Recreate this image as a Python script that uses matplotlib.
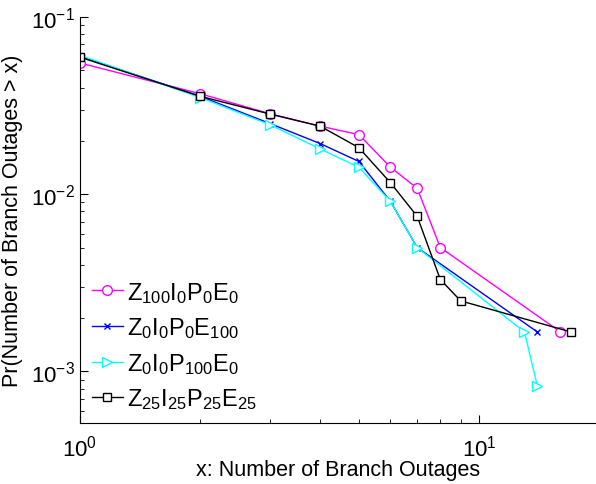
import matplotlib
matplotlib.use('Agg')
from matplotlib import pyplot as plt
import numpy as np

plt.rcParams['font.family'] = ['Liberation Sans', 'DejaVu Sans']
plt.rcParams['mathtext.fontset'] = 'custom'
plt.rcParams['mathtext.rm'] = 'Liberation Sans'

# series (log-log CCDF)
x_z100 = [1, 2, 3, 4, 5, 6, 7, 8, 16]
p_z100 = [0.0550, 0.0369, 0.0284, 0.0242, 0.0217, 0.0142, 0.0108, 0.0050, 0.00167]

x_e100 = [1, 2, 3, 4, 5, 6, 7, 14]
p_e100 = [0.0600, 0.0357, 0.0250, 0.0193, 0.0153, 0.0091, 0.0050, 0.00167]

x_p100 = [1, 2, 3, 4, 5, 6, 7, 13, 14]
p_p100 = [0.0608, 0.0351, 0.0246, 0.0180, 0.0142, 0.0091, 0.0050, 0.00167, 0.00083]

x_z25 = [1, 2, 3, 4, 5, 6, 7, 8, 9, 17]
p_z25 = [0.0593, 0.0357, 0.0283, 0.0242, 0.0183, 0.0116, 0.0075, 0.0033, 0.0025, 0.00167]

labels = [r'$\mathregular{Z_{100}I_0P_0E_0}$',
          r'$\mathregular{Z_0I_0P_0E_{100}}$',
          r'$\mathregular{Z_0I_0P_{100}E_0}$',
          r'$\mathregular{Z_{25}I_{25}P_{25}E_{25}}$']

fig = plt.figure(figsize=(5.96, 4.85), dpi=100)
ax = fig.add_axes([80/596, 1-424/485, 516/596, 406/485])

ax.plot(x_z100, p_z100, '-o', color='#ff00ff', lw=1, ms=7, mfc='white', mew=1, label=labels[0])
ax.plot(x_e100, p_e100, '-x', color='#0000ff', lw=1, ms=5, mew=1, label=labels[1])
ax.plot(x_p100, p_p100, '->', color='#00ffff', lw=1, ms=7, mfc='white', mew=1, label=labels[2])
ax.plot(x_z25, p_z25, '-s', color='black', lw=1, ms=6, mfc='white', mew=1, label=labels[3])

ax.set_xscale('log')
ax.set_yscale('log')
ax.set_xlim(1, 10**(516/399))
ax.set_ylim(10**(-1-406/177.2), 0.1)

ax.spines['top'].set_visible(False)
ax.spines['right'].set_visible(False)
ax.tick_params(which='both', direction='in', top=False, right=False, labelsize=16)
ax.tick_params(which='major', length=6)
ax.tick_params(which='minor', length=3)
ax.tick_params(axis='x', which='both', pad=8)

ax.set_xlabel('x: Number of Branch Outages', fontsize=15.5, labelpad=-1)
ax.set_ylabel('Pr(Number of Branch Outages > x)', fontsize=15.5, labelpad=6)

ax.legend(loc='lower left', frameon=False, fontsize=17, handlelength=1.3,
          labelspacing=0.45, handletextpad=0.2, borderaxespad=0.1, borderpad=0.4)

plt.savefig('out.png')
